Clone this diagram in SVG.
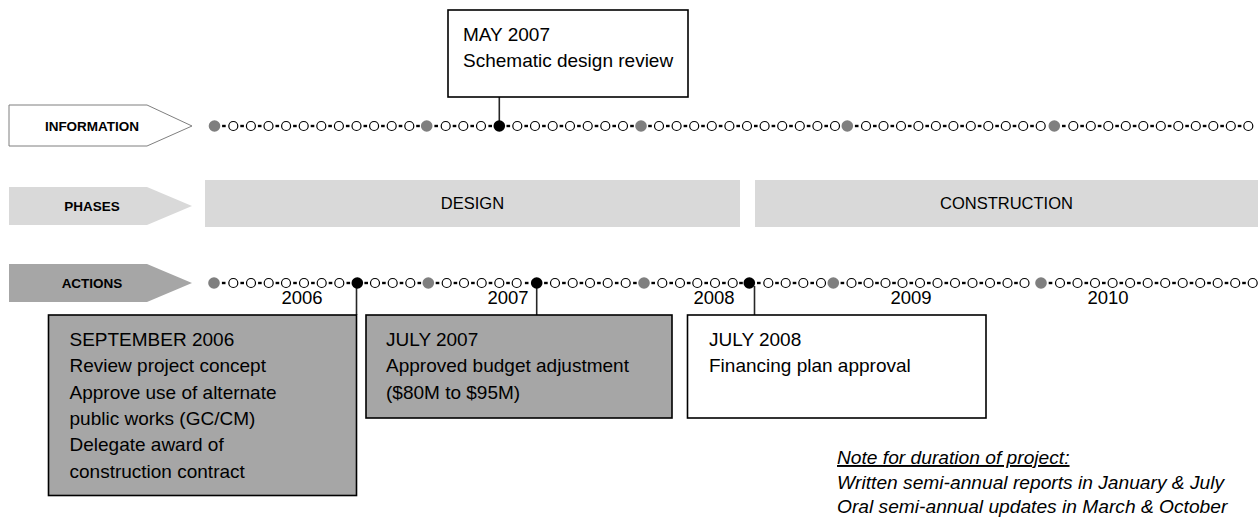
<svg xmlns="http://www.w3.org/2000/svg" xmlns:xlink="http://www.w3.org/1999/xlink" width="1260" height="527" viewBox="0 0 1260 527">
<style>
.t{font-family:"Liberation Sans",Arial,sans-serif;font-size:19px;fill:#000}
.lab{font-family:"Liberation Sans",Arial,sans-serif;font-size:13.5px;font-weight:bold;fill:#000;text-anchor:middle}
.ph{font-family:"Liberation Sans",Arial,sans-serif;font-size:16.5px;fill:#000;text-anchor:middle}
.yr{font-family:"Liberation Sans",Arial,sans-serif;font-size:18.5px;fill:#000;text-anchor:middle}
.note{font-family:"Liberation Sans",Arial,sans-serif;font-size:19.2px;font-style:italic;fill:#000}
.box{stroke:#000;stroke-width:1.6}
.conn{stroke:#262626;stroke-width:1.6;fill:none}
</style>
<defs>
<circle id="o" r="4.5" fill="#fff" stroke="#000" stroke-width="1.2"/>
<circle id="g" r="5.8" fill="#7f7f7f"/>
<circle id="b" r="5.8" fill="#000"/>
<rect id="d" x="-1.8" y="-1.2" width="3.6" height="2.4" fill="#000"/>
</defs>

<g id="arrow-information">
<polygon points="9,105 147,105 192,126 147,146 9,146" fill="#fff" stroke="#7f7f7f" stroke-width="1"/>
<text class="lab" x="92" y="130.5">INFORMATION</text>
</g>
<g id="arrow-phases">
<polygon points="9,187 147,187 192,206 147,225 9,225" fill="#d9d9d9"/>
<text class="lab" x="92" y="211">PHASES</text>
</g>
<g id="arrow-actions">
<polygon points="9,264 147,264 192,283 147,302 9,302" fill="#a6a6a6"/>
<text class="lab" x="92" y="288">ACTIONS</text>
</g>

<g id="phase-design">
<rect x="205" y="180" width="535" height="47" fill="#d9d9d9"/>
<text class="ph" x="472.5" y="209">DESIGN</text>
</g>
<g id="phase-construction">
<rect x="755" y="180" width="503" height="47" fill="#d9d9d9"/>
<text class="ph" x="1006.5" y="209">CONSTRUCTION</text>
</g>

<g id="connectors">
<line class="conn" x1="499.3" y1="97" x2="499.3" y2="126" stroke="#000"/>
<line class="conn" x1="356.5" y1="283" x2="356.5" y2="315"/>
<line class="conn" x1="536.7" y1="283" x2="536.7" y2="315"/>
<line class="conn" x1="754.5" y1="286" x2="754.5" y2="315"/>
</g>

<g id="timeline-information" transform="translate(0,126)">
<use href="#d" x="223.9"/><use href="#d" x="242.1"/><use href="#d" x="259.7"/><use href="#d" x="277.3"/><use href="#d" x="294.9"/><use href="#d" x="312.5"/><use href="#d" x="330.1"/><use href="#d" x="347.7"/><use href="#d" x="365.3"/><use href="#d" x="382.9"/><use href="#d" x="400.5"/><use href="#d" x="418"/><use href="#d" x="436.2"/><use href="#d" x="454.5"/><use href="#d" x="472.2"/><use href="#d" x="490.2"/><use href="#d" x="508.3"/><use href="#d" x="526.2"/><use href="#d" x="543.9"/><use href="#d" x="561.4"/><use href="#d" x="578.9"/><use href="#d" x="596.5"/><use href="#d" x="614.2"/><use href="#d" x="632"/><use href="#d" x="650"/><use href="#d" x="667.8"/><use href="#d" x="685.4"/><use href="#d" x="703"/><use href="#d" x="720.6"/><use href="#d" x="738.2"/><use href="#d" x="755.8"/><use href="#d" x="773.4"/><use href="#d" x="791"/><use href="#d" x="808.6"/><use href="#d" x="826.2"/><use href="#d" x="856.7"/><use href="#d" x="874.8"/><use href="#d" x="892.3"/><use href="#d" x="909.7"/><use href="#d" x="927.2"/><use href="#d" x="944.7"/><use href="#d" x="962.1"/><use href="#d" x="979.6"/><use href="#d" x="997.1"/><use href="#d" x="1014.5"/><use href="#d" x="1032"/><use href="#d" x="1063.8"/><use href="#d" x="1082.1"/><use href="#d" x="1099.6"/><use href="#d" x="1117.1"/><use href="#d" x="1134.6"/><use href="#d" x="1152.1"/><use href="#d" x="1169.6"/><use href="#d" x="1187.1"/><use href="#d" x="1204.6"/><use href="#d" x="1222.1"/><use href="#d" x="1239.6"/>
<use href="#g" x="214.5"/><use href="#o" x="233.3"/><use href="#o" x="250.9"/><use href="#o" x="268.5"/><use href="#o" x="286.1"/><use href="#o" x="303.7"/><use href="#o" x="321.3"/><use href="#o" x="338.9"/><use href="#o" x="356.5"/><use href="#o" x="374.1"/><use href="#o" x="391.7"/><use href="#o" x="409.3"/>
<use href="#g" x="426.7"/><use href="#o" x="445.7"/><use href="#o" x="463.3"/><use href="#o" x="481"/><use href="#b" x="499.3"/><use href="#o" x="517.3"/><use href="#o" x="535"/><use href="#o" x="552.7"/><use href="#o" x="570"/><use href="#o" x="587.7"/><use href="#o" x="605.3"/><use href="#o" x="623"/>
<use href="#g" x="641"/><use href="#o" x="659"/><use href="#o" x="676.6"/><use href="#o" x="694.2"/><use href="#o" x="711.8"/><use href="#o" x="729.4"/><use href="#o" x="747"/><use href="#o" x="764.6"/><use href="#o" x="782.2"/><use href="#o" x="799.8"/><use href="#o" x="817.4"/><use href="#o" x="835"/>
<use href="#g" x="847.3"/><use href="#o" x="866"/><use href="#o" x="883.5"/><use href="#o" x="901"/><use href="#o" x="918.4"/><use href="#o" x="935.9"/><use href="#o" x="953.4"/><use href="#o" x="970.8"/><use href="#o" x="988.3"/><use href="#o" x="1005.8"/><use href="#o" x="1023.2"/><use href="#o" x="1040.7"/>
<use href="#g" x="1054.3"/><use href="#o" x="1073.3"/><use href="#o" x="1090.8"/><use href="#o" x="1108.3"/><use href="#o" x="1125.8"/><use href="#o" x="1143.3"/><use href="#o" x="1160.8"/><use href="#o" x="1178.3"/><use href="#o" x="1195.8"/><use href="#o" x="1213.3"/><use href="#o" x="1230.8"/><use href="#o" x="1248.3"/>
</g>

<g id="timeline-actions" transform="translate(0,283)">
<use href="#d" x="223.7"/><use href="#d" x="242.2"/><use href="#d" x="259.9"/><use href="#d" x="277.4"/><use href="#d" x="295"/><use href="#d" x="312.9"/><use href="#d" x="330.5"/><use href="#d" x="348.3"/><use href="#d" x="366.2"/><use href="#d" x="383.9"/><use href="#d" x="401.5"/><use href="#d" x="419.3"/><use href="#d" x="437.5"/><use href="#d" x="455.4"/><use href="#d" x="472.9"/><use href="#d" x="490.5"/><use href="#d" x="508"/><use href="#d" x="526.7"/><use href="#d" x="545.9"/><use href="#d" x="563.9"/><use href="#d" x="581.4"/><use href="#d" x="598.9"/><use href="#d" x="616.7"/><use href="#d" x="634.9"/><use href="#d" x="653.2"/><use href="#d" x="671.2"/><use href="#d" x="688.7"/><use href="#d" x="706.2"/><use href="#d" x="723.9"/><use href="#d" x="741"/><use href="#d" x="758.8"/><use href="#d" x="777"/><use href="#d" x="794.5"/><use href="#d" x="812.2"/><use href="#d" x="842.4"/><use href="#d" x="860"/><use href="#d" x="877"/><use href="#d" x="894"/><use href="#d" x="911.3"/><use href="#d" x="928.8"/><use href="#d" x="946.3"/><use href="#d" x="963.8"/><use href="#d" x="981.3"/><use href="#d" x="998.8"/><use href="#d" x="1016"/><use href="#d" x="1050.5"/><use href="#d" x="1068.8"/><use href="#d" x="1086.3"/><use href="#d" x="1103.8"/><use href="#d" x="1121.3"/><use href="#d" x="1138.9"/><use href="#d" x="1156.5"/><use href="#d" x="1174"/><use href="#d" x="1191.5"/><use href="#d" x="1209"/><use href="#d" x="1226.5"/><use href="#d" x="1244"/>
<use href="#g" x="214"/><use href="#o" x="233.3"/><use href="#o" x="251"/><use href="#o" x="268.7"/><use href="#o" x="286"/><use href="#o" x="304"/><use href="#o" x="321.7"/><use href="#o" x="339.3"/><use href="#b" x="357.3"/><use href="#o" x="375"/><use href="#o" x="392.7"/><use href="#o" x="410.3"/>
<use href="#g" x="428.3"/><use href="#o" x="446.7"/><use href="#o" x="464"/><use href="#o" x="481.7"/><use href="#o" x="499.3"/><use href="#o" x="516.7"/><use href="#b" x="536.7"/><use href="#o" x="555"/><use href="#o" x="572.7"/><use href="#o" x="590"/><use href="#o" x="607.7"/><use href="#o" x="625.7"/>
<use href="#g" x="644"/><use href="#o" x="662.3"/><use href="#o" x="680"/><use href="#o" x="697.3"/><use href="#o" x="715"/><use href="#o" x="732.7"/><use href="#b" x="749.3"/><use href="#o" x="768.3"/><use href="#o" x="785.7"/><use href="#o" x="803.3"/><use href="#o" x="821"/>
<use href="#g" x="833.3"/><use href="#o" x="851.5"/><use href="#o" x="868.5"/><use href="#o" x="885.5"/><use href="#o" x="902.5"/><use href="#o" x="920"/><use href="#o" x="937.5"/><use href="#o" x="955"/><use href="#o" x="972.5"/><use href="#o" x="990"/><use href="#o" x="1007.5"/><use href="#o" x="1024.5"/>
<use href="#g" x="1041"/><use href="#o" x="1060"/><use href="#o" x="1077.5"/><use href="#o" x="1095"/><use href="#o" x="1112.6"/><use href="#o" x="1130.1"/><use href="#o" x="1147.7"/><use href="#o" x="1165.2"/><use href="#o" x="1182.7"/><use href="#o" x="1200.2"/><use href="#o" x="1217.7"/><use href="#o" x="1235.2"/><use href="#o" x="1252.7"/>
</g>

<g id="years">
<text class="yr" x="302" y="303.5">2006</text>
<text class="yr" x="508" y="303.5">2007</text>
<text class="yr" x="714" y="303.5">2008</text>
<text class="yr" x="911" y="303.5">2009</text>
<text class="yr" x="1108" y="303.5">2010</text>
</g>

<g id="box-may-2007">
<rect class="box" x="448" y="10" width="240" height="87" fill="#fff"/>
<text class="t" x="463" y="41">MAY 2007</text>
<text class="t" x="463" y="67">Schematic design review</text>
</g>

<g id="box-sep-2006">
<rect class="box" x="48.5" y="315" width="308" height="180.5" fill="#a6a6a6"/>
<text class="t" x="69.5" y="346">SEPTEMBER 2006</text>
<text class="t" x="69.5" y="372.3">Review project concept</text>
<text class="t" x="69.5" y="398.6">Approve use of alternate</text>
<text class="t" x="69.5" y="424.9">public works (GC/CM)</text>
<text class="t" x="69.5" y="451.2">Delegate award of</text>
<text class="t" x="69.5" y="477.5">construction contract</text>
</g>

<g id="box-jul-2007">
<rect class="box" x="366" y="315" width="306" height="103" fill="#a6a6a6"/>
<text class="t" x="386" y="346">JULY 2007</text>
<text class="t" x="386" y="372.3">Approved budget adjustment</text>
<text class="t" x="386" y="398.6">($80M to $95M)</text>
</g>

<g id="box-jul-2008">
<rect class="box" x="687.5" y="315" width="298.5" height="103" fill="#fff"/>
<text class="t" x="709" y="346">JULY 2008</text>
<text class="t" x="709" y="372.3">Financing plan approval</text>
</g>

<g id="note">
<text class="note" x="837" y="464" text-decoration="underline">Note for duration of project:</text>
<text class="note" x="837" y="488.5">Written semi-annual reports in January &amp; July</text>
<text class="note" x="837" y="513">Oral semi-annual updates in March &amp; October</text>
</g>
</svg>
